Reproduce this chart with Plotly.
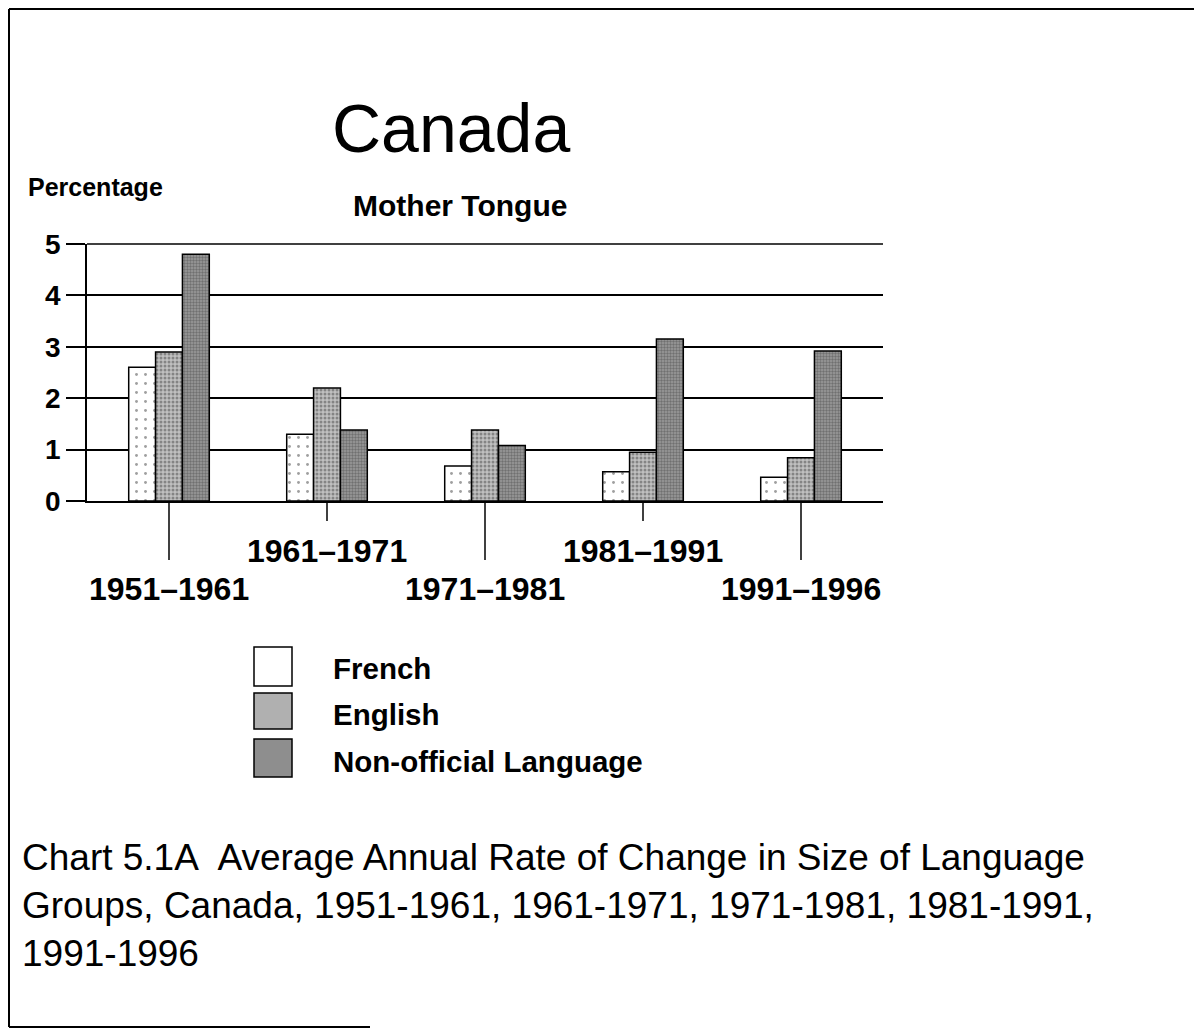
import plotly.graph_objects as go

# ---------------- data ----------------
periods = ["1951–1961", "1961–1971", "1971–1981", "1981–1991", "1991–1996"]
french = [2.6, 1.3, 0.68, 0.57, 0.46]
english = [2.9, 2.2, 1.38, 0.95, 0.84]
non_official = [4.8, 1.38, 1.08, 3.15, 2.92]
y_ticks = [0, 1, 2, 3, 4, 5]
series_names = ["French", "English", "Non-official Language"]

# ---------------- layout helpers (pixel geometry of the page) ----------------
PAGE_W, PAGE_H = 1202, 1030
OFF = 8  # browser body margin
W, H = PAGE_W - OFF, PAGE_H - OFF
PL, PR, PT, PB = 87, 883, 244, 501  # plot area in page pixels


def px(x):
    return (x - PL) / (PR - PL)


def py(y):
    return (PB - y) / (PB - PT)


FONT = "Liberation Sans, Arial, Helvetica, sans-serif"

styles = [
    dict(bg="#ffffff", fg="#404040", size=9, sol=0.08, legend="#ffffff"),
    dict(bg="#c0c0c0", fg="#484848", size=4, sol=0.45, legend="#b0b0b0"),
    dict(bg="#9c9c9c", fg="#444444", size=3, sol=0.5, legend="#8e8e8e"),
]

fig = go.Figure()
for name, vals, st in zip(series_names, [french, english, non_official], styles):
    fig.add_trace(go.Bar(
        x=periods, y=vals, name=name,
        marker=dict(
            color=st["bg"],
            line=dict(color="black", width=1.5),
            pattern=dict(shape=".", fgcolor=st["fg"], bgcolor=st["bg"],
                         size=st["size"], solidity=st["sol"], fillmode="overlay"),
        ),
        showlegend=False,
    ))

shapes = []
annotations = []

# top gridline at 5 (edge of plot area)
shapes.append(dict(type="line", xref="paper", yref="paper", x0=0, x1=1, y0=1, y1=1,
                   line=dict(color="black", width=1.5)))

# category tick marks (alternating lengths) and staggered labels
for i, p in enumerate(periods):
    long = (i % 2 == 0)
    shapes.append(dict(type="line", xref="x", yref="paper", x0=p, x1=p,
                       y0=py(PB), y1=py(560 if long else 521),
                       line=dict(color="black", width=1.5)))
    annotations.append(dict(xref="x", yref="paper", x=p, y=py(589 if long else 551),
                            text=p, showarrow=False, xanchor="center", yanchor="middle",
                            font=dict(family=FONT, size=32, color="black",
                                      weight="bold")))

# legend (boxes + labels)
legend_box_y = [(647, 686), (693, 729), (739, 777)]
legend_text_y = [668, 714, 761]
for name, st, (y0, y1), ty in zip(series_names, styles, legend_box_y, legend_text_y):
    shapes.append(dict(type="rect", xref="paper", yref="paper",
                       x0=px(254), x1=px(292), y0=py(y1), y1=py(y0),
                       fillcolor=st["legend"], line=dict(color="black", width=1.5)))
    annotations.append(dict(xref="paper", yref="paper", x=px(331), y=py(ty),
                            text=name, showarrow=False, xanchor="left", yanchor="middle",
                            font=dict(family=FONT, size=29.5, color="black", weight="bold")))

# page border (partial, as in the scan)
border = dict(color="black", width=2)
shapes += [
    dict(type="line", xref="paper", yref="paper", x0=px(9), x1=px(9), y0=py(9), y1=py(1027), line=border),
    dict(type="line", xref="paper", yref="paper", x0=px(9), x1=px(1202), y0=py(9), y1=py(9), line=border),
    dict(type="line", xref="paper", yref="paper", x0=px(9), x1=px(370), y0=py(1027), y1=py(1027), line=border),
    dict(type="line", xref="paper", yref="paper", x0=px(1200), x1=px(1200), y0=py(960), y1=py(1027),
         line=dict(color="black", width=1)),
]

# titles and caption
annotations += [
    dict(xref="paper", yref="paper", x=px(451), y=py(128), text="Canada", showarrow=False,
         xanchor="center", yanchor="middle", font=dict(family=FONT, size=68, color="black")),
    dict(xref="paper", yref="paper", x=px(460), y=py(205), text="Mother Tongue", showarrow=False,
         xanchor="center", yanchor="middle", font=dict(family=FONT, size=30, color="black", weight="bold")),
    dict(xref="paper", yref="paper", x=px(26), y=py(187), text="Percentage", showarrow=False,
         xanchor="left", yanchor="middle", font=dict(family=FONT, size=25, color="black", weight="bold")),
    dict(xref="paper", yref="paper", x=px(20), y=py(906), showarrow=False, align="left",
         xanchor="left", yanchor="middle",
         text=("Chart 5.1A&nbsp; Average Annual Rate of Change in Size of Language<br>"
               "Groups, Canada, 1951-1961, 1961-1971, 1971-1981, 1981-1991,<br>"
               "1991-1996"),
         font=dict(family=FONT, size=37, color="black")),
]

fig.update_layout(
    width=W, height=H,
    margin=dict(l=PL - OFF, r=PAGE_W - PR, t=PT - OFF, b=PAGE_H - PB, pad=0),
    paper_bgcolor="white", plot_bgcolor="white",
    barmode="group", bargap=0.49, bargroupgap=0.0,
    shapes=shapes, annotations=annotations,
    font=dict(family=FONT, color="black"),
)
fig.update_xaxes(showticklabels=False, ticks="", showgrid=False, showline=True,
                 linecolor="black", linewidth=1.5, zeroline=False)
fig.update_yaxes(range=[0, 5], tickvals=y_ticks, showgrid=True, gridcolor="black", gridwidth=1.5,
                 ticks="outside", ticklen=19, tickwidth=1.5, tickcolor="black",
                 showline=True, linecolor="black", linewidth=1.5, zeroline=False,
                 tickfont=dict(family=FONT, size=28, color="black", weight="bold"))

fig.write_html("out.html")
